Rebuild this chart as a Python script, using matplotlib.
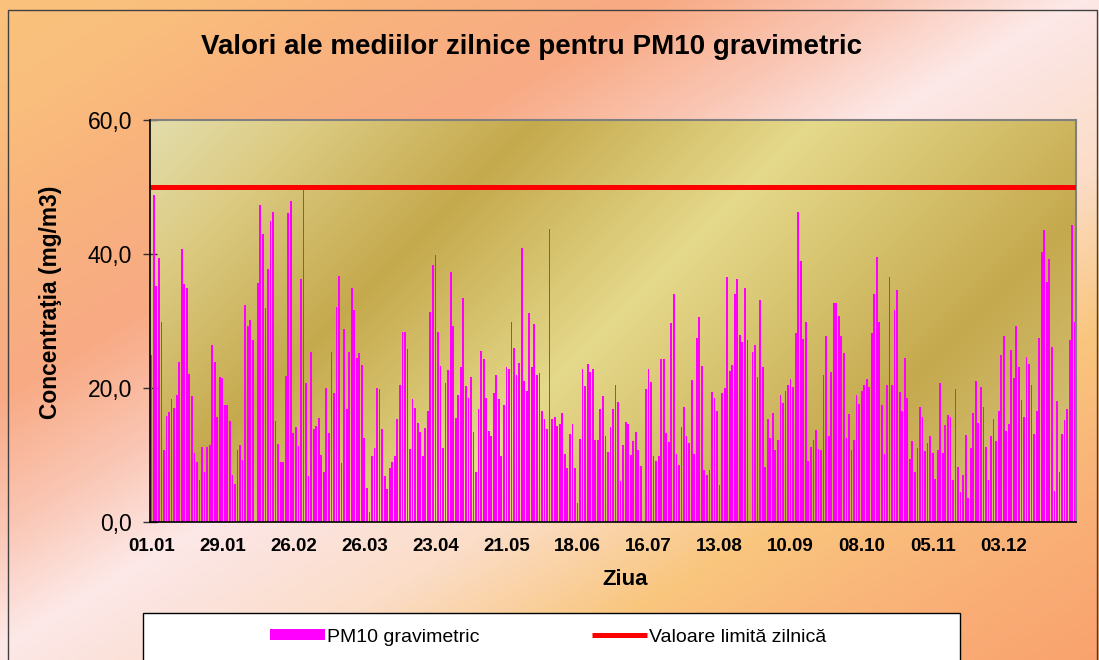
import numpy as np
import matplotlib
matplotlib.use("Agg")
import matplotlib.pyplot as plt
from matplotlib.colors import LinearSegmentedColormap
from matplotlib.patches import Rectangle

plt.rcParams['font.family'] = ['Liberation Sans', 'DejaVu Sans']

# ---------------- data ----------------
title = "Valori ale mediilor zilnice pentru PM10 gravimetric"
ylabel = "Concentraţia (mg/m3)"
xlabel = "Ziua"
series_label = "PM10 gravimetric"
limit_label = "Valoare limită zilnică"
limit_value = 50.0

pm10_q1 = [25.0,
    48.8, 35.2, 39.4, 29.8, 10.8, 15.8, 16.4, 18.3, 17.0, 19.0, 23.9, 40.7, 35.5, 34.9, 22.1, 18.8, 10.3, 8.9,
    6.2, 11.2, 7.4, 11.2, 11.5, 26.4, 23.9, 15.7, 21.6, 21.5, 17.4, 17.5, 15.1, 7.0, 5.7, 10.7, 11.5, 9.3,
    32.4, 29.3, 30.1, 27.2, 0.0, 35.6, 47.3, 43.0, 31.9, 37.8, 45.0, 46.3, 15.1, 11.7, 8.9, 9.0, 21.8, 46.1,
    47.9, 13.3, 14.2, 11.3, 36.3, 49.5, 20.8, 6.9, 25.3, 13.9, 14.4, 15.5, 10.0, 7.4, 20.0, 13.3, 25.4, 19.2,
    32.1, 36.7, 8.8, 28.8, 16.9, 25.4, 34.9, 31.7, 24.5, 25.2, 23.4, 12.6, 5.1, 1.5, 9.9, 11.1, 20.0, 19.9]
pm10_q2 = [
    13.9, 6.9, 5.0, 8.0, 8.9, 9.9, 15.4, 20.5, 28.4, 28.4, 25.8, 10.9, 18.4, 17.0, 14.8, 13.4, 9.9, 14.1,
    16.6, 31.3, 38.4, 39.9, 28.3, 23.3, 11.0, 20.8, 22.7, 37.3, 29.3, 15.5, 19.0, 23.1, 33.4, 20.3, 18.5, 21.6,
    13.4, 7.5, 16.8, 25.5, 24.4, 18.5, 13.6, 12.9, 19.2, 21.9, 18.4, 9.8, 17.5, 23.2, 22.9, 29.9, 25.9, 21.9,
    23.8, 40.9, 21.0, 19.6, 31.2, 23.1, 29.6, 21.9, 22.2, 16.5, 15.4, 13.9, 43.7, 15.4, 15.7, 14.3, 14.7, 16.2,
    10.1, 8.1, 13.1, 14.6, 8.1, 2.9, 12.4, 22.9, 20.3, 23.6, 22.4, 22.9, 12.2, 12.2, 16.8, 18.8, 12.8, 10.4, 14.2]
pm10_q3 = [
    16.9, 20.4, 17.9, 6.1, 11.5, 14.9, 14.6, 10.0, 12.1, 13.4, 10.7, 8.4, 0.0, 19.9, 22.8, 20.9, 9.9, 9.1,
    9.9, 24.3, 24.3, 13.3, 11.9, 29.7, 34.0, 10.1, 8.5, 14.2, 17.2, 12.9, 11.8, 21.2, 10.2, 27.5, 30.6, 23.3,
    7.8, 7.0, 7.8, 19.4, 18.5, 16.6, 5.5, 19.3, 20.0, 36.6, 22.6, 23.4, 34.0, 36.3, 27.9, 26.9, 34.9, 27.1,
    0.0, 25.4, 26.4, 21.7, 33.2, 23.1, 8.2, 15.4, 12.6, 16.2, 10.8, 12.2, 18.9, 17.7, 19.6, 20.5, 21.4, 20.2,
    28.2, 46.3, 38.9, 27.3, 29.9, 9.1, 11.2, 12.3, 13.8, 10.9, 10.7, 21.9, 27.8, 12.9, 22.4, 32.7, 32.7, 30.8]
pm10_q4 = [
    27.7, 25.2, 12.6, 16.1, 10.8, 12.2, 18.9, 17.6, 19.6, 20.5, 21.4, 20.1, 28.2, 34.0, 39.5, 29.9, 17.5, 10.2,
    20.5, 36.6, 20.5, 31.6, 34.6, 19.4, 16.5, 24.5, 18.5, 9.4, 12.1, 7.5, 11.1, 17.1, 15.7, 10.6, 11.8, 12.8,
    10.3, 6.4, 10.7, 20.7, 10.3, 14.5, 16.0, 15.7, 6.3, 19.9, 8.2, 4.5, 7.0, 13.0, 3.6, 11.1, 16.3, 21.0, 14.8,
    20.1, 17.2, 11.2, 6.3, 12.8, 15.3, 12.1, 16.6, 24.9, 27.7, 13.6, 14.6, 25.6, 21.5, 29.3, 23.1, 18.2, 15.7,
    24.7, 23.6, 20.5, 13.1, 16.6, 27.5, 40.3, 43.6, 35.8, 39.3, 26.1, 4.6, 18.1, 7.5, 13.1, 15.2, 16.9, 27.2,
    44.4, 29.9]
pm10 = pm10_q1 + pm10_q2 + pm10_q3 + pm10_q4

tick_days = [0, 28, 56, 84, 112, 140, 168, 196, 224, 252, 280, 308, 336]
tick_labels = ["01.01", "29.01", "26.02", "26.03", "23.04", "21.05", "18.06",
               "16.07", "13.08", "10.09", "08.10", "05.11", "03.12"]
y_ticks = [0, 20, 40, 60]
y_tick_labels = ["0,0", "20,0", "40,0", "60,0"]

# ---------------- figure ----------------
W, H = 1099, 660
fig = plt.figure(figsize=(W / 100, H / 100), dpi=100)

# figure background gradient
bg_stops = [(0.00, "#F9C27D"), (0.17, "#F9BE7C"), (0.33, "#F9B47C"), (0.6, "#F8AA84"),
            (0.80, "#FAC6B4"), (0.98, "#FDE9E8"), (1.05, "#FCE4E0"), (1.25, "#FBDDC8"),
            (1.5, "#F9C67E"), (1.75, "#F9B178"), (2.0, "#F9A26E")]
bg_cmap = LinearSegmentedColormap.from_list("bg", [(a / 2.0, c) for a, c in bg_stops], N=512)
yy, xx = np.mgrid[0:H, 0:W]
s = (xx / W + yy / H) / 2.0
bg_ax = fig.add_axes([0, 0, 1, 1], zorder=0)
bg_ax.imshow(s, cmap=bg_cmap, vmin=0, vmax=1, aspect='auto', interpolation='bilinear')
bg_ax.set_axis_off()

# outer frame
fig.patches.append(Rectangle((8 / W, -0.05), (1097 - 8) / W, 1 - 10 / H + 0.05,
                             transform=fig.transFigure, fill=False,
                             edgecolor="#404040", linewidth=1.0, zorder=1))

# plot axes
L, R, T, B = 150, 1076, 120, 522
ax = fig.add_axes([L / W, 1 - B / H, (R - L) / W, (B - T) / H], zorder=2)
ax.set_facecolor("none")

n = len(pm10)
days = np.arange(n)

# plot area gradient
pa_cmap = LinearSegmentedColormap.from_list("pa", [
    (0.00, "#E3DDAC"), (0.12, "#DCCB82"), (0.29, "#C5A94D"), (0.50, "#E5D98B"),
    (0.77, "#C5A94E"), (1.00, "#D9CA85")], N=512)
ph, pw = B - T, R - L
py, px = np.mgrid[0:ph, 0:pw]
p = ((L + px) + (T + py) - 270) / 1328.0
ax.imshow(p, cmap=pa_cmap, vmin=0, vmax=1, aspect='auto', interpolation='bilinear',
          extent=(-0.5, n - 0.5, 0, 60), origin='upper', zorder=0)

bars = ax.bar(days, pm10, width=0.7, color="#FF00FF", linewidth=0, zorder=2,
              label=series_label)
line = ax.axhline(limit_value, color="#FF0000", linewidth=3.6, zorder=3,
                  label=limit_label, solid_capstyle='butt')

ax.set_xlim(-0.5, n - 0.5)
ax.set_ylim(0, 60)
ax.set_yticks(y_ticks)
ax.set_yticklabels(y_tick_labels, fontsize=16.5)
ax.set_xticks(tick_days)
ax.set_xticklabels(tick_labels, fontsize=13.5, fontweight='bold')
ax.tick_params(axis='x', length=0, pad=11.5)
ax.tick_params(axis='y', direction='inout', length=10, width=1, color="#303030", pad=8)

for side in ("left", "bottom"):
    ax.spines[side].set_color("black")
    ax.spines[side].set_linewidth(1.2)
for side in ("top", "right"):
    ax.spines[side].set_color("#808080")
    ax.spines[side].set_linewidth(1.5)
ax.spines["left"].set_zorder(5)

ax.set_xlabel(xlabel, fontsize=16, fontweight='bold')
ax.xaxis.set_label_coords((625 - L) / (R - L), (B - 569) / (B - T))
ax.set_ylabel(ylabel, fontsize=16.4, fontweight='bold')
ax.yaxis.set_label_coords((62 - L) / (R - L), (B - 302) / (B - T))

fig.text(532 / W, 1 - 47 / H, title, fontsize=20, fontweight='bold',
         ha='center', va='center', zorder=3)

# legend box
fig.patches.append(Rectangle((143 / W, -0.05), (960 - 143) / W, 0.05 + 1 - 613 / H,
                             transform=fig.transFigure, facecolor="white",
                             edgecolor="black", linewidth=1.0, zorder=3))
leg = fig.legend(handles=[bars, line], labels=[series_label, limit_label],
                 loc='center left', bbox_to_anchor=(270 / W, 1 - 637 / H),
                 ncol=2, frameon=False, fontsize=14, handlelength=2.83, borderpad=0,
                 borderaxespad=0, handleheight=0.45, handletextpad=0.1, columnspacing=5.8)
leg.set_zorder(4)

fig.savefig("out.png", dpi=100)
